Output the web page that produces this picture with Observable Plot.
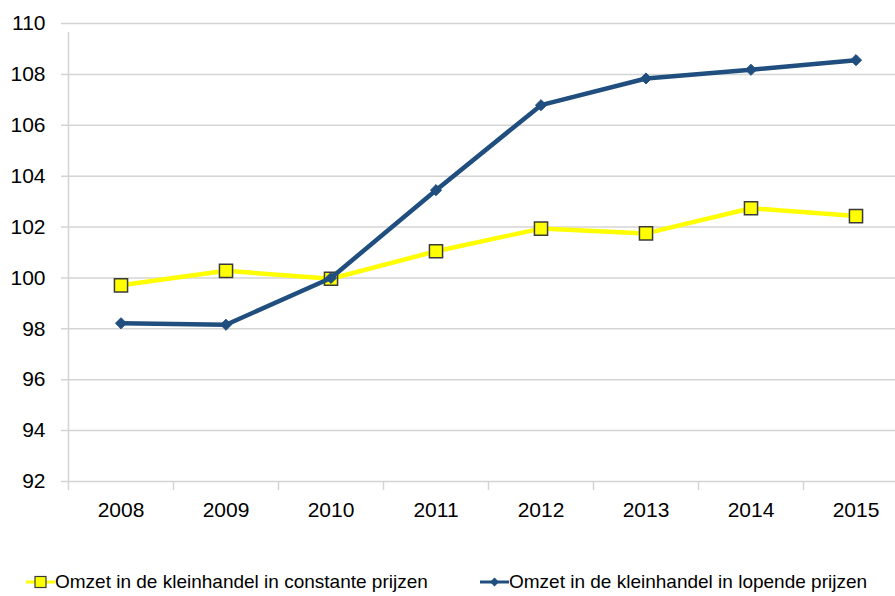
<!DOCTYPE html>
<html><head><meta charset="utf-8">
<script src="https://cdn.jsdelivr.net/npm/d3@7"></script>
<script src="https://cdn.jsdelivr.net/npm/@observablehq/plot@0.6"></script>
<style>
body{margin:0;background:#fff;font-family:"Liberation Sans",Arial,sans-serif;}
#wrap{position:relative;width:895px;height:596px;overflow:hidden;}
.leg{position:absolute;top:569px;font-size:19px;color:#000;display:flex;align-items:center;white-space:nowrap;}
.leg svg{display:block;}
</style></head><body>
<div id="wrap"></div>
<script>
const years = [2008, 2009, 2010, 2011, 2012, 2013, 2014, 2015];
const yearLabels = ["2008","2009","2010","2011","2012","2013","2014","2015"];
const constante = [99.71, 100.28, 99.97, 101.05, 101.94, 101.75, 102.74, 102.43];
const lopende = [98.22, 98.16, 100.0, 103.45, 106.79, 107.84, 108.18, 108.56];
const yTicks = [92, 94, 96, 98, 100, 102, 104, 106, 108, 110];
const seriesNames = ["Omzet in de kleinhandel in constante prijzen", "Omzet in de kleinhandel in lopende prijzen"];

const bounds = years.map(y => y - 0.5);
const dataC = years.map((y, i) => ({year: y, value: constante[i]}));
const dataL = years.map((y, i) => ({year: y, value: lopende[i]}));
const BLUE = "#1F4E7F", YELLOW = "#FFFF00", GRID = "#D4D4D4";

const chart = Plot.plot({
  width: 895, height: 540,
  marginLeft: 68, marginRight: 0, marginTop: 23, marginBottom: 59,
  style: {fontFamily: '"Liberation Sans", Arial, sans-serif', fontSize: "21px", color: "#000", background: "#fff", overflow: "visible"},
  x: {type: "linear", domain: [2007.5, 2015.5], range: [68, 908], axis: null, label: null},
  y: {domain: [92, 110], axis: null, label: null},
  marks: [
    Plot.ruleY(yTicks, {stroke: GRID, strokeWidth: 1.5, x1: 2007.5, x2: 2016, insetLeft: -7}),
    Plot.ruleX([2007.5], {y1: 92, y2: 110, stroke: GRID, strokeWidth: 1.5, insetBottom: -9}),
    Plot.axisX({ticks: bounds, tickSize: 9, tickFormat: () => "", stroke: GRID, strokeWidth: 1.5, label: null}),
    Plot.axisX({ticks: years, tickSize: 0, tickPadding: 21, tickFormat: d => yearLabels[years.indexOf(d)], fontSize: 21, label: null}),
    Plot.axisY({ticks: yTicks, tickSize: 0, tickPadding: 23, tickFormat: d => String(d), fontSize: 21, label: null}),
    Plot.line(dataC, {x: "year", y: "value", stroke: YELLOW, strokeWidth: 4.5}),
    Plot.dot(dataC, {x: "year", y: "value", symbol: "square", r: 7.4, fill: YELLOW, stroke: "#3a3a3a", strokeWidth: 1.5}),
    Plot.line(dataL, {x: "year", y: "value", stroke: BLUE, strokeWidth: 4.5}),
    Plot.dot(dataL, {x: "year", y: "value", symbol: "diamond2", r: 5, fill: BLUE, stroke: BLUE, strokeWidth: 1})
  ]
});
const wrap = document.getElementById("wrap");
wrap.appendChild(chart);

function legendItem(left, kind, label) {
  const div = document.createElement("div");
  div.className = "leg";
  div.style.left = left + "px";
  const ns = "http://www.w3.org/2000/svg";
  const s = document.createElementNS(ns, "svg");
  s.setAttribute("width", 29); s.setAttribute("height", 26);
  const line = document.createElementNS(ns, "line");
  line.setAttribute("x1", 0); line.setAttribute("x2", 29); line.setAttribute("y1", 13); line.setAttribute("y2", 13);
  line.setAttribute("stroke", kind === "c" ? YELLOW : BLUE); line.setAttribute("stroke-width", 3);
  s.appendChild(line);
  if (kind === "c") {
    const r = document.createElementNS(ns, "rect");
    r.setAttribute("x", 9); r.setAttribute("y", 7.5); r.setAttribute("width", 11); r.setAttribute("height", 11);
    r.setAttribute("fill", YELLOW); r.setAttribute("stroke", "#3a3a3a"); r.setAttribute("stroke-width", 1.2);
    s.appendChild(r);
  } else {
    const p = document.createElementNS(ns, "path");
    p.setAttribute("d", "M14.5,8.5L19,13L14.5,17.5L10,13Z");
    p.setAttribute("fill", BLUE);
    s.appendChild(p);
  }
  div.appendChild(s);
  const t = document.createElement("span");
  t.textContent = label;
  div.appendChild(t);
  wrap.appendChild(div);
}
legendItem(26, "c", seriesNames[0]);
legendItem(480, "l", seriesNames[1]);
</script>
</body></html>
